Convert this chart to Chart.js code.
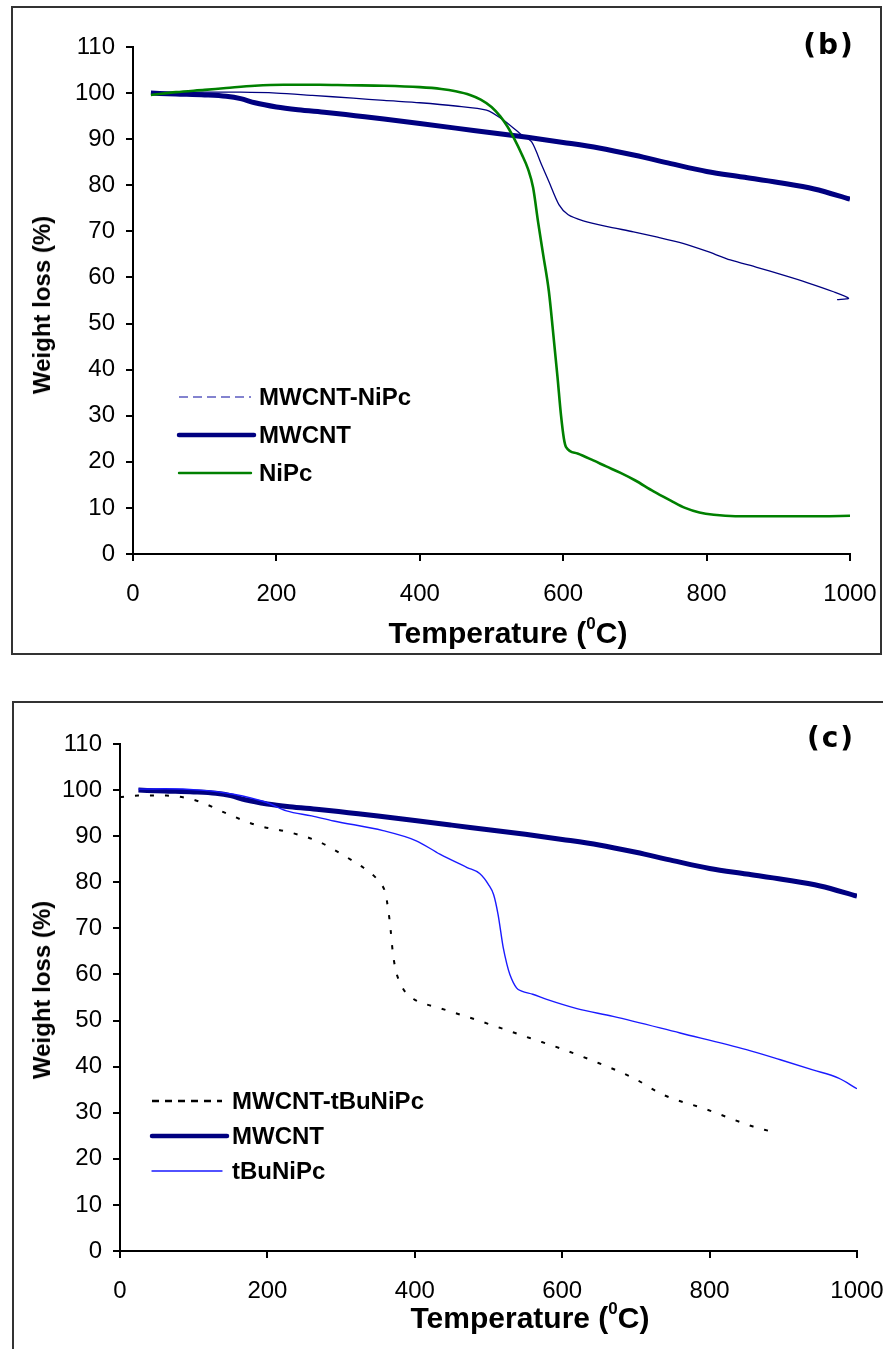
<!DOCTYPE html>
<html>
<head>
  <meta charset="UTF-8">
  <title>TGA curves (b) and (c)</title>
  <script src="https://cdn.jsdelivr.net/npm/chart.js"></script>
  <style>
    body {
      margin: 0;
      width: 883px;
      height: 1349px;
      overflow: hidden;
      position: relative;
      background: #fff;
      font-family: "Liberation Sans", Arial, sans-serif;
    }
    .frame { position: absolute; border: 2px solid #333; box-sizing: border-box; }
    canvas { position: absolute; }
    .ytitle {
      position: absolute; font-weight: bold; font-size: 24px; white-space: nowrap;
      transform: translate(-50%, -50%) rotate(-90deg);
    }
    .xtitle {
      position: absolute; font-weight: bold; font-size: 30px; white-space: nowrap;
      transform: translate(-50%, -50%);
    }
    .xtitle sup { font-size: 17px; vertical-align: 14px; line-height: 0; }
    .tag {
      position: absolute; font-family: "DejaVu Sans", sans-serif; font-weight: bold;
      font-size: 28px; letter-spacing: 2px; transform: translate(-50%, -50%);
    }
  </style>
</head>
<body>

<!-- panel (b) -->
<div class="frame" style="left:11px; top:6px; width:871px; height:649px;"></div>
<canvas id="chartB" width="900" height="644" style="left:13px; top:8px;"></canvas>
<div class="ytitle" style="left:42px; top:305px;">Weight loss (%)</div>
<div class="xtitle" style="left:508px; top:633px;">Temperature (<sup>0</sup>C)</div>
<div class="tag" style="left:829px; top:44px;">(b)</div>

<!-- panel (c) -->
<div class="frame" style="left:12px; top:701px; width:880px; height:660px;"></div>
<canvas id="chartC" width="900" height="646" style="left:14px; top:703px;"></canvas>
<div class="ytitle" style="left:42px; top:990px;">Weight loss (%)</div>
<div class="xtitle" style="left:530px; top:1318px;">Temperature (<sup>0</sup>C)</div>
<div class="tag" style="left:831px; top:737px;">(c)</div>

<script>
  // axis ticks
  const tempTicks = [0, 200, 400, 600, 800, 1000];
  const weightTicks = [0, 10, 20, 30, 40, 50, 60, 70, 80, 90, 100, 110];

  // MWCNT (same curve in both panels)
  const tMwcnt = [25, 60, 100, 130, 150, 170, 200, 230, 270, 310, 350, 400, 450, 500, 550, 600, 650, 700, 750, 800, 850, 900, 950, 1000];
  const wMwcnt = [100, 99.8, 99.6, 99.3, 98.8, 97.9, 97.0, 96.4, 95.8, 95.1, 94.4, 93.4, 92.4, 91.4, 90.4, 89.3, 88.1, 86.5, 84.7, 83.0, 81.8, 80.6, 79.2, 77.0];

  // panel (b)
  const tMwcntNiPc = [25, 60, 100, 150, 200, 250, 307, 350, 400, 450, 493, 516, 540, 556, 570, 580, 594, 607, 628, 660, 698, 730, 767, 800, 833, 870, 907, 940, 977, 998, 982];
  const wMwcntNiPc = [100, 100.1, 100.2, 100.2, 100.0, 99.5, 98.9, 98.4, 97.9, 97.2, 96.3, 94.2, 91.2, 89.4, 84.4, 80.8, 75.8, 73.6, 72.3, 71.1, 69.9, 68.8, 67.4, 65.7, 63.8, 62.2, 60.5, 58.9, 56.9, 55.5, 55.2];

  const tNiPc = [25, 60, 100, 130, 170, 210, 260, 300, 350, 400, 430, 450, 470, 485, 500, 512, 522, 532, 542, 551, 558, 565, 572, 580, 586, 592, 597, 601, 604, 620, 642, 660, 680, 700, 726, 750, 770, 790, 810, 840, 880, 920, 960, 1000];
  const wNiPc = [99.6, 100.2, 100.7, 101.1, 101.6, 101.8, 101.8, 101.7, 101.6, 101.3, 100.9, 100.4, 99.6, 98.6, 97.0, 95.0, 92.8, 90.0, 86.8, 83.5, 79.5, 72.0, 65.0, 57.0, 48.0, 38.5, 30.0, 25.0, 23.2, 21.8, 20.3, 19.0, 17.6, 16.0, 13.6, 11.6, 10.0, 9.0, 8.5, 8.2, 8.2, 8.2, 8.2, 8.3];

  // panel (c)
  const tMwcntTBu = [0, 25, 63, 104, 145, 185, 226, 267, 307, 330, 347, 355, 360, 364, 367, 370, 374, 380, 388, 400, 434, 475, 516, 556, 597, 638, 697, 737, 796, 859, 882];
  const wMwcntTBu = [98.5, 98.8, 98.8, 97.7, 94.9, 92.4, 91.0, 89.0, 85.5, 83.2, 81.0, 79.5, 77.7, 74.0, 70.0, 65.0, 61.0, 58.2, 56.0, 54.5, 52.7, 50.6, 48.4, 46.2, 44.0, 41.5, 37.5, 33.9, 30.7, 27.0, 26.0];

  const tTBuNiPc = [25, 60, 109, 154, 199, 226, 260, 290, 357, 402, 434, 471, 488, 500, 507, 513, 520, 525, 529, 538, 545, 560, 579, 620, 669, 760, 850, 896, 940, 975, 1000];
  const wTBuNiPc = [100.2, 100.3, 100.0, 99.1, 97.3, 95.5, 94.4, 93.3, 91.2, 89.0, 86.1, 83.2, 81.9, 79.5, 77.3, 73.0, 65.8, 62.2, 60.0, 57.1, 56.4, 55.7, 54.6, 52.6, 50.9, 47.3, 43.7, 41.5, 39.3, 37.5, 35.2];

  function pts(ts, ws) {
    return ts.map((t, i) => ({ x: t, y: ws[i] }));
  }

  // legend drawn inside the plot, like the original figure
  const insideLegend = {
    id: 'insideLegend',
    afterDraw(chart, args, opts) {
      const ctx = chart.ctx;
      ctx.save();
      ctx.font = 'bold 24px "Liberation Sans", Arial, sans-serif';
      ctx.textBaseline = 'middle';
      chart.data.datasets.forEach((ds, i) => {
        const y = opts.top + i * opts.rowGap;
        ctx.beginPath();
        ctx.strokeStyle = ds.legendColor || ds.borderColor;
        ctx.lineWidth = ds.legendWidth || ds.borderWidth;
        ctx.lineCap = ds.legendDash ? 'butt' : 'round';
        ctx.setLineDash(ds.legendDash || []);
        ctx.moveTo(opts.left, y);
        ctx.lineTo(opts.left + (ds.legendLen || opts.sampleLen), y);
        ctx.stroke();
        ctx.setLineDash([]);
        ctx.fillStyle = '#000';
        ctx.fillText(ds.label, opts.textLeft, y + 1);
      });
      ctx.restore();
    }
  };

  function makeOptions(area, legend) {
    return {
      responsive: false,
      animation: false,
      devicePixelRatio: 1,
      layout: {
        autoPadding: false,
        padding: { left: 0, top: area.top, right: area.right, bottom: 0 }
      },
      elements: { point: { radius: 0 }, line: { cubicInterpolationMode: 'monotone' } },
      scales: {
        x: {
          type: 'linear',
          min: 0,
          max: 1000,
          afterBuildTicks: s => { s.ticks = tempTicks.map(v => ({ value: v })); },
          afterFit: s => { s.height = area.xHeight; },
          grid: { drawOnChartArea: false, drawTicks: true, tickLength: 7, color: '#000', lineWidth: 2 },
          border: { color: '#000', width: 2 },
          ticks: {
            color: '#000', padding: 19, maxRotation: 0,
            font: { family: '"Liberation Sans", Arial', size: 24 },
            callback: v => String(v)
          }
        },
        y: {
          min: 0,
          max: 110,
          afterBuildTicks: s => { s.ticks = weightTicks.map(v => ({ value: v })); },
          afterFit: s => { s.width = area.yWidth; },
          grid: { drawOnChartArea: false, drawTicks: true, tickLength: 7, color: '#000', lineWidth: 2 },
          border: { color: '#000', width: 2 },
          ticks: {
            color: '#000', padding: 11,
            font: { family: '"Liberation Sans", Arial', size: 24 },
            callback: v => String(v)
          }
        }
      },
      plugins: {
        legend: { display: false },
        tooltip: { enabled: false },
        insideLegend: legend
      }
    };
  }

  // panel (b)
  new Chart(document.getElementById('chartB'), {
    type: 'line',
    data: {
      datasets: [
        {
          label: 'MWCNT-NiPc',
          data: pts(tMwcntNiPc, wMwcntNiPc),
          borderColor: '#000080',
          borderWidth: 1.3,
          tension: 0.25,
          cubicInterpolationMode: 'default',
          order: 2,
          legendColor: '#5b5bc0',
          legendDash: [9, 5],
          legendWidth: 1.5
        },
        {
          label: 'MWCNT',
          data: pts(tMwcnt, wMwcnt),
          borderColor: '#000080',
          borderWidth: 5,
          order: 1,
          legendLen: 75,
          legendWidth: 4.5
        },
        {
          label: 'NiPc',
          data: pts(tNiPc, wNiPc),
          borderColor: '#008000',
          borderWidth: 2.6,
          order: 0,
          legendWidth: 2.4
        }
      ]
    },
    options: makeOptions(
      { top: 39, right: 63, xHeight: 98, yWidth: 120 },
      { left: 166, top: 389, rowGap: 38, sampleLen: 72, textLeft: 246 }
    ),
    plugins: [insideLegend]
  });

  // panel (c)
  new Chart(document.getElementById('chartC'), {
    type: 'line',
    data: {
      datasets: [
        {
          label: 'MWCNT-tBuNiPc',
          data: pts(tMwcntTBu, wMwcntTBu),
          borderColor: '#000',
          borderWidth: 2,
          borderDash: [4, 11],
          order: 2,
          legendDash: [7, 6],
          legendWidth: 2.4
        },
        {
          label: 'MWCNT',
          data: pts(tMwcnt, wMwcnt),
          borderColor: '#000080',
          borderWidth: 5,
          order: 1,
          legendLen: 75,
          legendWidth: 4.5
        },
        {
          label: 'tBuNiPc',
          data: pts(tTBuNiPc, wTBuNiPc),
          borderColor: '#1a1aff',
          borderWidth: 1.4,
          order: 0
        }
      ]
    },
    options: makeOptions(
      { top: 41, right: 57, xHeight: 98, yWidth: 106 },
      { left: 138, top: 398, rowGap: 35, sampleLen: 70, textLeft: 218 }
    ),
    plugins: [insideLegend]
  });
</script>

</body>
</html>
